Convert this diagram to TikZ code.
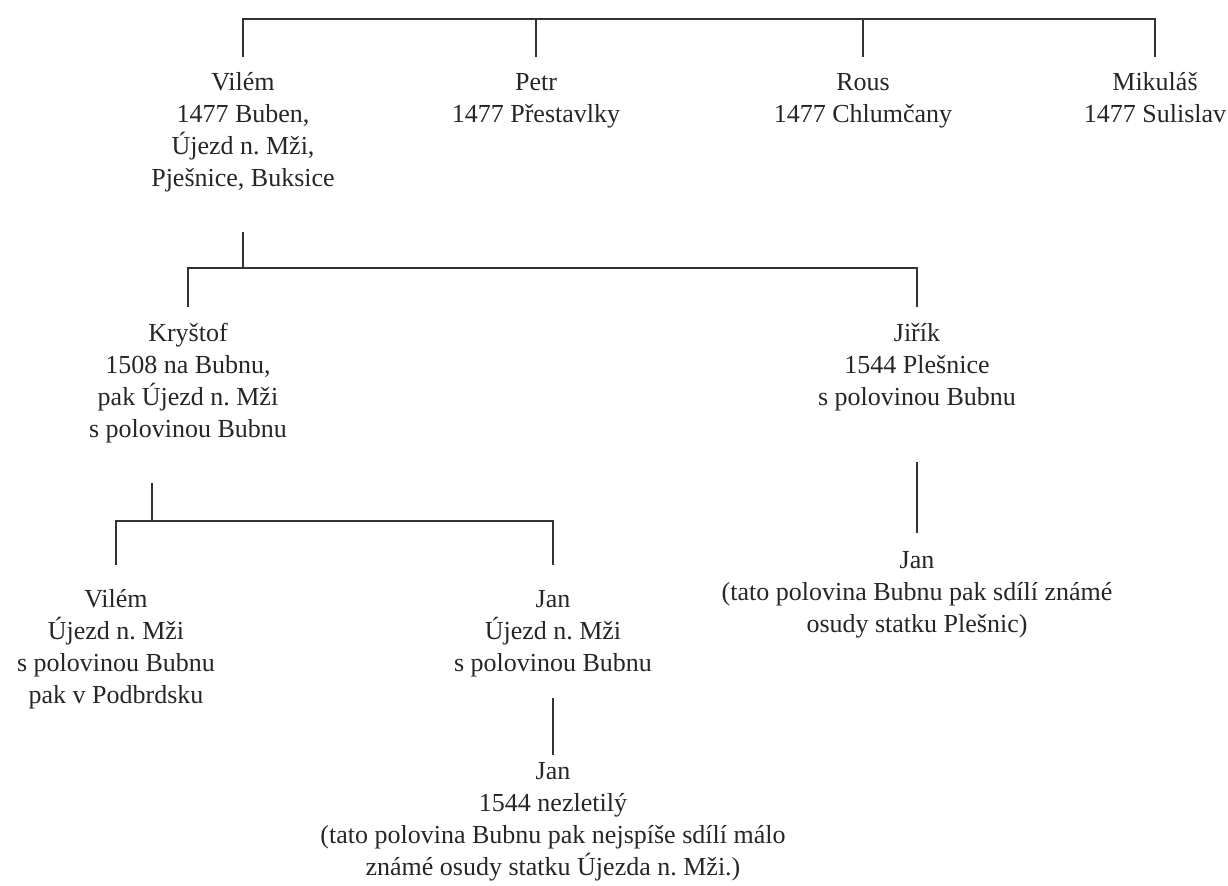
\documentclass[tikz,border=0pt]{standalone}
\usepackage{fontspec}
\setmainfont{Liberation Serif}
\frenchspacing
\begin{document}
\begin{tikzpicture}[x=0.5pt,y=-0.5pt,
  person/.style={align=center,inner sep=0pt,anchor=base,text=black!85,
     font=\fontsize{13pt}{16pt}\selectfont},
  tie/.style={draw=black!80,line width=0.9pt,line cap=butt}]
\useasboundingbox (0,0) rectangle (1228,886);
% row 1 (anchor = baseline of the last line)
\node[person] (vilem1) at (243,187) {Vilém\\1477 Buben,\\Újezd n. Mži,\\Pješnice, Buksice};
\node[person] (petr) at (536,123) {Petr\\1477 Přestavlky};
\node[person] (rous) at (863,123) {Rous\\1477 Chlumčany};
\node[person] (mikulas) at (1155,123) {Mikuláš\\1477 Sulislav};
% row 2
\node[person] (krystof) at (188,438) {Kryštof\\1508 na Bubnu,\\pak Újezd n. Mži\\s polovinou Bubnu};
\node[person] (jirik) at (917,406) {Jiřík\\1544 Plešnice\\s polovinou Bubnu};
\node[person] (janp) at (917,633) {Jan\\(tato polovina Bubnu pak sdílí známé\\osudy statku Plešnic)};
% row 3
\node[person] (vilem2) at (116,704) {Vilém\\Újezd n. Mži\\s polovinou Bubnu\\pak v Podbrdsku};
\node[person] (janu) at (553,672) {Jan\\Újezd n. Mži\\s polovinou Bubnu};
\node[person] (jan2) at (553,876) {Jan\\1544 nezletilý\\(tato polovina Bubnu pak nejspíše sdílí málo\\známé osudy statku Újezda n. Mži.)};
% connector points
\coordinate (t1) at (243,19); \coordinate (t1d) at (243,57);
\coordinate (t2) at (536,19); \coordinate (t2d) at (536,57);
\coordinate (t3) at (863,19); \coordinate (t3d) at (863,57);
\coordinate (t4) at (1155,19); \coordinate (t4d) at (1155,57);
\coordinate (v1a) at (243,232); \coordinate (v1b) at (243,268);
\coordinate (k1) at (188,268); \coordinate (k1d) at (188,307);
\coordinate (j1) at (917,268); \coordinate (j1d) at (917,307);
\coordinate (ja) at (917,462); \coordinate (jb) at (917,533);
\coordinate (ka) at (152,483); \coordinate (kb) at (152,521);
\coordinate (w1) at (116,521); \coordinate (w1d) at (116,565);
\coordinate (n1) at (553,521); \coordinate (n1d) at (553,565);
\coordinate (na) at (553,698); \coordinate (nb) at (553,755);
% connectors
\draw[tie] (t1d) -- (t1) -- (t4) -- (t4d);
\draw[tie] (t2) -- (t2d);
\draw[tie] (t3) -- (t3d);
\draw[tie] (v1a) -- (v1b);
\draw[tie] (k1d) -- (k1) -- (j1) -- (j1d);
\draw[tie] (ja) -- (jb);
\draw[tie] (ka) -- (kb);
\draw[tie] (w1d) -- (w1) -- (n1) -- (n1d);
\draw[tie] (na) -- (nb);
\end{tikzpicture}
\end{document}
